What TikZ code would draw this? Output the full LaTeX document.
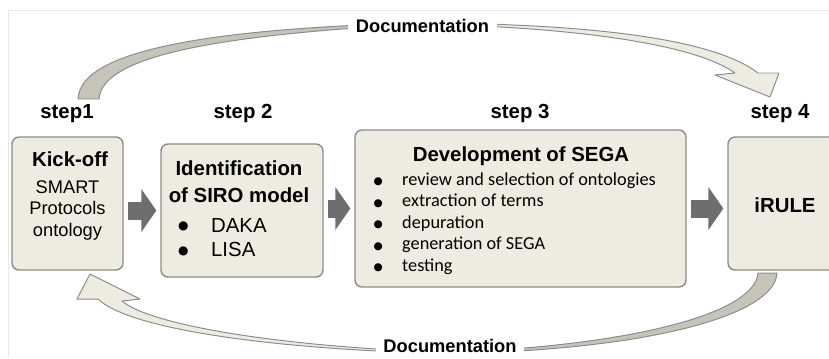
\documentclass[tikz,border=0pt]{standalone}
\usepackage{fontspec}
\setmainfont{Liberation Sans}
\newfontfamily\calibri{Carlito}
\newfontfamily\dejavu{DejaVu Sans}
\usetikzlibrary{arrows.meta,fit}

\definecolor{boxfill}{HTML}{EEECE1}
\definecolor{boxline}{HTML}{8C8C8C}
\definecolor{shadefill}{HTML}{C6C3B8}
\definecolor{blockgray}{HTML}{6E6E6E}
\definecolor{framegray}{HTML}{E8E8E8}

\newcommand\listdot{\makebox[5.67pt][c]{\raisebox{1.9pt}{\dejavu\fontsize{8.5}{9}\selectfont ●}}}
\newcommand\smalldot{\makebox[5.67pt][c]{\raisebox{0.45pt}{\dejavu\fontsize{7.5}{8}\selectfont ●}}}

\tikzset{
  stepbox/.style={draw=boxline,fill=boxfill,line width=1pt,rounded corners=5pt,inner sep=0pt},
  steplabel/.style={font=\fontsize{14.5}{17}\selectfont\bfseries,anchor=base,inner sep=0pt},
  heading/.style={font=\fontsize{14.5}{19.8}\selectfont\bfseries,anchor=base,inner sep=0pt},
  doclabel/.style={font=\fontsize{13}{15}\selectfont\bfseries,anchor=base,fill=white,inner xsep=5.5pt,inner ysep=2pt},
  blockarrow/.style={blockgray,line width=12.8pt,-{Triangle[length=10.6pt,width=29.8pt]},
    shorten <=2.8pt,shorten >=2.8pt},
  lightarrow/.style={draw=boxline,fill=boxfill,line width=0.7pt,line join=round},
  shadearrow/.style={draw=boxline,fill=shadefill,line width=0.7pt,line join=round}
}

\begin{document}
\begin{tikzpicture}[x=0.025cm,y=-0.025cm]
    \useasboundingbox (0,0) rectangle (829,358);
    \clip (0,0) rectangle (829,358);
    \draw[framegray,line width=0.7pt] (8,358) -- (8,10) -- (829,10);

    % documentation loop, top
    \filldraw[shadearrow] (78,99) .. controls (80,45) and (240,28) .. (420,22.8)
        -- (420,23.8) .. controls (240,34) and (102,52) .. (99,99) -- cycle;
    \filldraw[lightarrow] (420,22.8) .. controls (600,24) and (715,40) .. (758,73)
        -- (779,73) -- (770,97) -- (715,75) -- (735,73)
        .. controls (700,48) and (600,28) .. (420,23.8) -- cycle;
    % documentation loop, bottom
    \filldraw[lightarrow] (90,274) -- (140,299) -- (122,301)
        .. controls (150,325) and (280,347) .. (450,352.6) -- (450,353.6)
        .. controls (280,350) and (130,330) .. (98,299) -- (77,299) -- cycle;
    \filldraw[shadearrow] (450,352.6) .. controls (640,345) and (755,312) .. (758,273)
        -- (777,273) .. controls (775,315) and (650,350) .. (450,353.6) -- cycle;

    \node[doclabel] (doctop) at (422.5,32) {Documentation};
    \node[doclabel] (docbot) at (450,352) {Documentation};

    % boxes
    \node[stepbox,fit={(12,137) (123,270)}] (kick) {};
    \node[stepbox,fit={(161,144) (323,277)}] (ident) {};
    \node[stepbox,fit={(355,130) (686,287)}] (dev) {};
    \node[stepbox,fit={(728,137) (840,270)}] (irule) {};

    \node[steplabel] (s1) at (67,118) {step1};
    \node[steplabel] (s2) at (243,118) {step 2};
    \node[steplabel] (s3) at (520,118) {step 3};
    \node[steplabel] (s4) at (780,118) {step 4};

    % step 1
    \node[heading] (kickT) at (70,166) {Kick-off};
    \node[anchor=base,inner sep=0pt,font=\fontsize{13}{15.6}\selectfont] (kickL) at (67.5,193)
        {\begin{tabular}[t]{@{}c@{}}SMART\\Protocols\\ontology\end{tabular}};
    % step 2
    \node[heading] (identT) at (239,175)
        {\begin{tabular}[t]{@{}c@{}}Identification\\of SIRO model\end{tabular}};
    \node[anchor=base west,inner sep=0pt,font=\fontsize{14.5}{17.7}\selectfont] (identL) at (179,232)
        {\begin{tabular}[t]{@{}l@{\hspace{17pt}}l@{}}\listdot & DAKA\\ \listdot & LISA\end{tabular}};
    % step 3
    \node[heading] (devT) at (521,161) {Development of SEGA};
    \node[anchor=base west,inner sep=0pt,font=\calibri\fontsize{13}{15.4}\selectfont] (devL) at (374,185)
        {\begin{tabular}[t]{@{}l@{\hspace{14.2pt}}l@{}}
        \smalldot & review and selection of ontologies\\
        \smalldot & extraction of terms\\
        \smalldot & depuration\\
        \smalldot & generation of SEGA\\
        \smalldot & testing\end{tabular}};
    % step 4
    \node[heading] (iruleT) at (785,212) {iRULE};

    \draw[blockarrow] (kick.east |- ident.west) -- (ident.west);
    \draw[blockarrow] (ident.east |- dev.west) -- (dev.west);
    \draw[blockarrow] (dev.east) -- (dev.east -| irule.west);
\end{tikzpicture}
\end{document}
